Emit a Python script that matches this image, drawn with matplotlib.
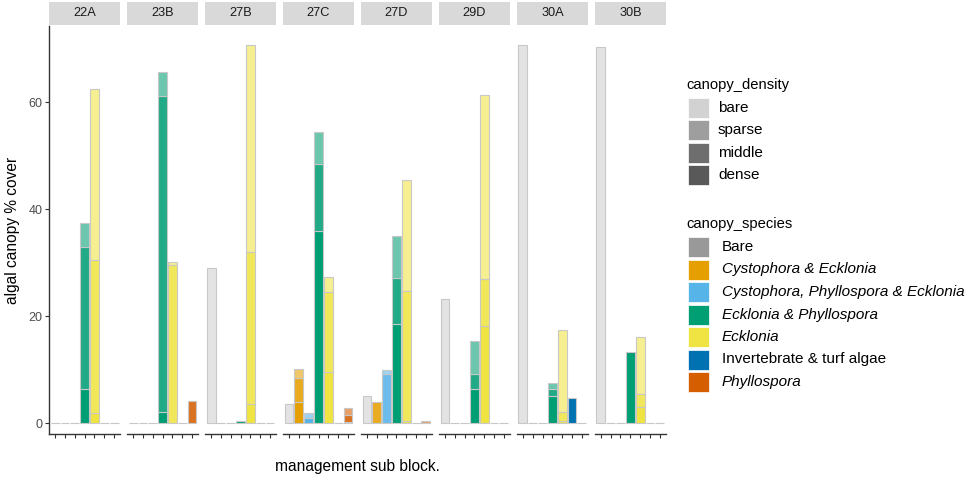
import matplotlib
matplotlib.use("Agg")
import matplotlib.pyplot as plt
from matplotlib.patches import Rectangle
from matplotlib.colors import to_rgb

plt.rcParams['font.family'] = ['Liberation Sans', 'DejaVu Sans']

blocks = ['22A', '23B', '27B', '27C', '27D', '29D', '30A', '30B']
species = ['Bare', 'Cystophora & Ecklonia', 'Cystophora, Phyllospora & Ecklonia',
           'Ecklonia & Phyllospora', 'Ecklonia', 'Invertebrate & turf algae', 'Phyllospora']
species_italic = [False, True, True, True, True, False, True]
species_colors = ['#999999', '#E69F00', '#56B4E9', '#009E73', '#F0E442', '#0072B2', '#D55E00']
densities = ['bare', 'sparse', 'middle', 'dense']
density_alpha = [0.27, 0.58, 0.87, 1.0]

# % cover per block (rows) and species (columns), one table per density
dense_cover = [
    [0, 0, 0, 6.5, 1.9, 0, 0],
    [0, 0, 0, 2.2, 0, 0, 0],
    [0, 0, 0, 0.4, 3.6, 0, 0],
    [0, 4.0, 1.0, 35.9, 9.5, 0, 0.3],
    [0, 0, 0, 18.5, 0.5, 0, 0],
    [0, 0, 0, 6.5, 18.2, 0, 0],
    [0, 0, 0, 5.1, 0.5, 4.7, 0],
    [0, 0, 0, 13.3, 3.0, 0, 0],
]
middle_cover = [
    [0, 0, 0, 26.5, 28.6, 0, 0],
    [0, 0, 0, 58.9, 29.6, 0, 4.2],
    [0, 0, 0, 0, 28.4, 0, 0],
    [0, 4.5, 0, 12.6, 15.0, 0, 1.25],
    [0, 4.0, 9.2, 8.7, 24.2, 0, 0],
    [0, 0, 0, 2.8, 8.7, 0, 0],
    [0, 0, 0, 1.25, 1.7, 0, 0],
    [0, 0, 0, 0, 2.4, 0, 0],
]
sparse_cover = [
    [0, 0, 0, 4.5, 31.9, 0, 0],
    [0, 0, 0, 4.5, 0.6, 0, 0],
    [0, 0, 0, 0, 38.8, 0, 0],
    [0, 1.6, 1.0, 5.9, 2.8, 0, 1.25],
    [0, 0, 0.8, 7.9, 20.8, 0, 0.4],
    [0, 0, 0, 6.1, 34.4, 0, 0],
    [0, 0, 0, 1.15, 15.2, 0, 0],
    [0, 0, 0, 0, 10.8, 0, 0],
]
bare_cover = [
    [0, 0, 0, 0, 0, 0, 0],
    [0, 0, 0, 0, 0, 0, 0],
    [29.0, 0, 0, 0, 0, 0, 0],
    [3.6, 0, 0, 0, 0, 0, 0],
    [5.1, 0, 0, 0, 0, 0, 0],
    [23.2, 0, 0, 0, 0, 0, 0],
    [70.7, 0, 0, 0, 0, 0, 0],
    [70.4, 0, 0, 0, 0, 0, 0],
]
# stacked from the bottom up
stack_order = [('dense', dense_cover), ('middle', middle_cover),
               ('sparse', sparse_cover), ('bare', bare_cover)]

W, H = 969, 478
fig = plt.figure(figsize=(W / 100, H / 100), dpi=100)

def fx(x):
    return x / W

def fy(y):
    return 1 - y / H

panel_left, panel_w, panel_step = 49.3, 70.7, 77.95
panel_top, panel_bot = 26, 434
edge = '#c8c8c8'

def blend(color, a):
    r, g, b = to_rgb(color)
    return (r, g, b, a)

xs = list(range(1, len(species) + 1))
axes = []
for i, blk in enumerate(blocks):
    l = panel_left + i * panel_step
    ax = fig.add_axes([fx(l), fy(panel_bot), panel_w / W, (panel_bot - panel_top) / H])
    axes.append(ax)
    totals = [0.0] * len(species)
    for dname, table in stack_order:
        a = density_alpha[densities.index(dname)]
        vals = table[i]
        for j, v in enumerate(vals):
            if v > 0:
                ax.bar(xs[j], v, bottom=totals[j], width=0.9,
                       color=blend(species_colors[j], a), edgecolor=edge, linewidth=0.8)
                totals[j] += v
    for j, t in enumerate(totals):
        if t == 0:
            ax.bar(xs[j], 0, width=0.9, color='none', edgecolor=edge, linewidth=0.8)
    ax.set_xlim(0.4, 7.6)
    ax.set_ylim(-2.0, 74.26)
    ax.set_xticks(xs)
    ax.set_xticklabels([])
    for s in ['top', 'right']:
        ax.spines[s].set_visible(False)
    ax.spines['bottom'].set_color('#333333')
    ax.spines['bottom'].set_linewidth(1.0)
    ax.tick_params(axis='x', length=3, width=0.8, color='#333333')
    if i == 0:
        ax.spines['left'].set_color('#333333')
        ax.spines['left'].set_linewidth(1.0)
        ax.set_yticks([0, 20, 40, 60])
        ax.tick_params(axis='y', length=3, width=0.8, color='#333333',
                       labelsize=9, labelcolor='#4d4d4d', pad=2)
    else:
        ax.spines['left'].set_visible(False)
        ax.set_yticks([])
    # facet strip
    sax = fig.add_axes([fx(l), fy(24.5), panel_w / W, 22.5 / H])
    sax.set_facecolor('#d9d9d9')
    sax.set_xticks([])
    sax.set_yticks([])
    for s in sax.spines.values():
        s.set_visible(False)
    sax.text(0.5, 0.5, blk, ha='center', va='center', fontsize=9.2, color='#1a1a1a',
             transform=sax.transAxes)

fig.text(fx(13), fy(230), 'algal canopy % cover', rotation=90, ha='center', va='center',
         fontsize=11.2, color='black')
fig.text(fx(357.5), fy(467), 'management sub block.', ha='center', va='center',
         fontsize=11.2, color='black')

# legends
key_x, key_w, key_h, row = 688, 21, 20, 22.3
fig.text(fx(686), fy(85), 'canopy_density', ha='left', va='center', fontsize=10.6)
for k, (d, a) in enumerate(zip(densities, density_alpha)):
    y0 = 98 + k * row
    fig.add_artist(Rectangle((fx(key_x), fy(y0 + key_h)), key_w / W, key_h / H,
                             transform=fig.transFigure, facecolor=blend('#595959', a),
                             edgecolor='white', linewidth=0.5))
    fig.text(fx(718), fy(y0 + key_h / 2), d, ha='left', va='center', fontsize=11)

fig.text(fx(686), fy(224), 'canopy_species', ha='left', va='center', fontsize=10.6)
for k, (s, c, it) in enumerate(zip(species, species_colors, species_italic)):
    y0 = 237 + k * 22.5
    fig.add_artist(Rectangle((fx(key_x), fy(y0 + key_h)), key_w / W, key_h / H,
                             transform=fig.transFigure, facecolor=c,
                             edgecolor='white', linewidth=0.5))
    fig.text(fx(722), fy(y0 + key_h / 2), s, ha='left', va='center', fontsize=11,
             style='italic' if it else 'normal')

fig.savefig('out.png', dpi=100)
